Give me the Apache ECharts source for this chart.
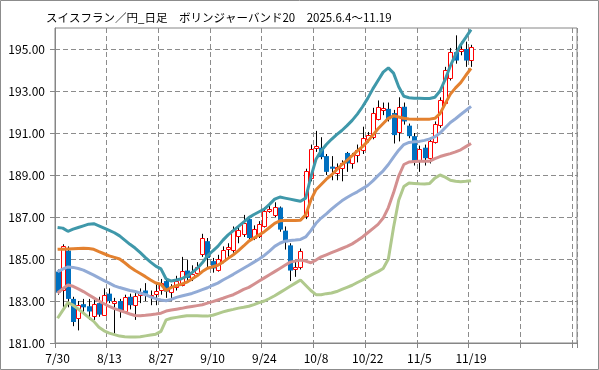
<!DOCTYPE html>
<html>
<head>
<meta charset="utf-8">
<script src="https://cdn.jsdelivr.net/npm/echarts@6/dist/echarts.min.js"></script>
<style>
html,body{margin:0;padding:0;background:#fff;}
#c{width:599px;height:370px;}
</style>
</head>
<body>
<div id="c"></div>
<script>
const titleText = 'スイスフラン／円_日足　ボリンジャーバンド20　2025.6.4～11.19';

// weekday categories 2025-07-30 .. 2025-12-17
const categories = (function(){
  const out = [];
  const d = new Date(2025, 6, 30);
  const end = new Date(2025, 11, 17);
  while (d <= end) {
    const wd = d.getDay();
    if (wd !== 0 && wd !== 6) out.push((d.getMonth()+1) + '/' + d.getDate());
    d.setDate(d.getDate()+1);
  }
  return out;
})();
const lastLabelIndex = 80;

const yTicks = [181, 183, 185, 187, 189, 191, 193, 195];

const opens = [184.40,183.50,185.40,183.10,182.20,182.85,182.75,182.30,182.90,182.35,
183.35,182.90,183.00,182.55,183.20,182.80,183.30,183.50,183.20,183.35,
183.50,183.95,183.40,183.65,183.80,184.45,184.10,184.30,185.25,185.85,
184.90,184.50,184.95,185.45,185.45,186.10,186.20,186.90,186.00,186.10,
186.60,187.30,187.10,187.45,186.35,185.65,184.50,184.65,187.05,188.85,
190.30,190.30,189.90,189.40,189.10,189.30,190.05,189.55,189.95,190.20,
190.70,190.80,191.70,192.10,192.15,191.95,191.05,192.25,191.35,190.85,
189.70,190.30,189.80,190.60,191.35,192.45,193.60,194.85,194.90,195.00,194.50];
const closes = [183.40,185.60,183.10,182.00,182.80,182.70,182.50,182.85,182.35,183.30,
183.00,183.00,182.55,183.20,182.80,183.25,183.45,183.35,183.30,183.50,
183.85,183.45,183.65,183.95,184.45,184.10,184.30,184.60,186.00,185.05,
184.55,185.00,185.45,185.55,186.40,186.40,186.70,186.00,186.45,186.65,
187.30,187.40,187.50,186.40,185.80,184.45,184.60,185.40,189.20,190.25,
190.40,189.85,189.15,189.30,189.40,189.55,189.55,189.95,190.20,190.75,
190.90,191.95,192.25,192.20,191.65,190.90,192.25,191.55,190.85,189.65,
190.25,189.80,190.60,191.45,192.55,194.00,194.85,194.45,195.00,194.45,195.10];
const lows = [183.30,182.70,182.70,181.80,181.60,182.45,182.10,182.10,182.25,182.30,
182.90,181.45,182.20,182.45,182.60,182.10,182.90,183.00,182.80,182.80,
183.30,183.15,183.00,183.50,183.70,183.95,183.95,184.20,185.10,184.60,
184.35,184.40,184.80,185.10,185.30,185.75,186.05,185.90,185.90,186.00,
186.50,187.20,187.00,186.30,185.45,183.95,184.15,184.50,186.90,188.70,
190.10,189.75,189.00,188.75,188.75,188.70,189.15,189.30,189.60,190.00,
190.55,190.70,191.60,191.85,191.55,190.50,190.60,191.40,190.75,189.45,
189.15,189.45,189.55,190.50,191.25,192.35,193.50,194.30,194.70,194.15,194.15];
const highs = [184.50,185.70,185.60,183.20,183.00,183.10,183.10,183.05,183.20,183.60,
183.60,183.15,183.10,183.30,183.35,183.40,183.60,183.85,183.50,183.80,
184.05,184.05,183.80,184.20,185.10,184.95,184.70,184.85,186.20,186.00,
185.05,185.20,185.60,185.75,186.55,186.60,187.10,187.05,186.60,186.80,
187.45,187.55,187.70,187.50,186.55,185.75,184.95,185.50,189.30,190.45,
191.10,190.80,190.00,189.90,189.55,189.70,190.10,190.05,190.45,191.30,
191.05,192.20,192.55,192.45,192.45,192.10,192.70,192.45,191.45,191.00,
190.40,190.45,190.70,191.55,192.70,194.15,195.05,195.65,195.35,195.35,195.20];

const bandPlus2 = [186.50,186.47,186.32,186.42,186.50,186.58,186.66,186.68,186.58,186.47,
186.36,186.25,186.10,185.90,185.70,185.52,185.30,185.07,184.85,184.66,
184.53,184.05,183.95,184.00,184.06,184.18,184.35,184.55,184.82,185.15,
185.38,185.60,185.90,186.15,186.35,186.55,186.76,186.97,187.12,187.25,
187.38,187.60,187.85,187.95,187.90,187.85,187.80,187.75,187.90,188.90,
189.75,190.15,190.45,190.70,190.92,191.12,191.35,191.60,191.90,192.25,
192.65,193.10,193.50,193.90,194.10,193.85,193.20,192.75,192.68,192.66,
192.65,192.64,192.64,192.70,193.00,193.55,194.20,194.73,195.20,195.55,195.92];
const bandPlus1 = [185.46,185.47,185.48,185.49,185.50,185.51,185.50,185.46,185.35,185.25,
185.15,185.08,185.00,184.82,184.62,184.45,184.31,184.16,184.00,183.86,
183.80,183.50,183.65,183.73,183.80,183.90,184.05,184.20,184.40,184.56,
184.63,184.70,184.85,185.03,185.20,185.40,185.62,185.85,186.00,186.15,
186.30,186.50,186.70,186.82,186.83,186.83,186.83,186.85,187.10,187.80,
188.30,188.55,188.80,189.00,189.25,189.50,189.70,189.92,190.15,190.35,
190.60,190.90,191.20,191.45,191.70,191.82,191.76,191.70,191.67,191.66,
191.66,191.66,191.66,191.70,191.92,192.40,192.85,193.15,193.40,193.75,194.08];
const bandMid = [184.40,184.52,184.62,184.60,184.55,184.47,184.35,184.23,184.10,183.97,
183.85,183.72,183.64,183.57,183.50,183.45,183.38,183.30,183.20,183.11,
183.05,183.01,183.08,183.17,183.24,183.30,183.36,183.45,183.54,183.63,
183.75,183.85,184.00,184.13,184.27,184.42,184.56,184.70,184.85,185.00,
185.17,185.38,185.60,185.75,185.85,185.88,185.90,185.93,186.05,186.35,
186.70,186.95,187.15,187.37,187.58,187.77,187.93,188.07,188.20,188.35,
188.50,188.72,188.97,189.20,189.50,189.85,190.18,190.45,190.55,190.58,
190.60,190.65,190.72,190.82,191.00,191.25,191.50,191.68,191.88,192.07,192.27];
const bandMinus1 = [183.38,183.58,183.76,183.70,183.58,183.45,183.30,183.15,183.00,182.87,
182.74,182.64,182.55,182.47,182.38,182.31,182.30,182.32,182.35,182.38,
182.42,182.52,182.57,182.61,182.65,182.70,182.74,182.78,182.82,182.90,
182.97,183.05,183.13,183.22,183.30,183.42,183.55,183.65,183.80,183.95,
184.10,184.25,184.40,184.55,184.70,184.85,184.90,184.95,184.90,184.82,
184.95,185.10,185.20,185.30,185.40,185.50,185.60,185.72,185.88,186.05,
186.25,186.45,186.65,186.95,187.45,188.15,188.95,189.50,189.62,189.64,
189.65,189.65,189.66,189.78,189.88,189.95,190.02,190.10,190.20,190.35,190.50];
const bandMinus2 = [182.18,182.55,182.92,182.80,182.62,182.42,182.22,182.03,181.75,181.58,
181.47,181.40,181.33,181.30,181.28,181.28,181.30,181.34,181.38,181.42,
181.55,182.10,182.18,182.22,182.26,182.30,182.30,182.30,182.28,182.28,
182.32,182.40,182.48,182.55,182.60,182.66,182.70,182.75,182.83,182.92,
183.00,183.12,183.25,183.40,183.55,183.70,183.85,184.00,183.75,183.50,
183.30,183.30,183.35,183.38,183.45,183.55,183.65,183.75,183.88,184.00,
184.15,184.28,184.40,184.55,185.00,186.50,187.80,188.45,188.62,188.60,
188.58,188.57,188.60,188.85,189.00,188.90,188.75,188.70,188.68,188.70,188.73];

const colors = {
  plus2: '#3f98aa', plus1: '#e3812f', mid: '#92abd6', minus1: '#d49090', minus2: '#b0c98d',
  up: '#ff0000', down: '#0070c0', wick: '#000000', grid: '#8c8c8c', axis: '#868686'
};

const candleData = opens.map((o, i) => [i, o, closes[i], lows[i], highs[i]]);

function renderCandle(params, api) {
  const i = api.value(0), o = api.value(1), c = api.value(2), l = api.value(3), h = api.value(4);
  const pO = api.coord([i, o]), pC = api.coord([i, c]), pL = api.coord([i, l]), pH = api.coord([i, h]);
  const cx = Math.round(pO[0]) + 0.5;
  const up = c >= o;
  const top = Math.min(pO[1], pC[1]), bot = Math.max(pO[1], pC[1]);
  const children = [{
    type: 'line',
    shape: {x1: cx, y1: pH[1], x2: cx, y2: pL[1]},
    style: {stroke: colors.wick, lineWidth: 1}
  }];
  if (up) {
    children.push({
      type: 'rect',
      shape: {x: cx - 2, y: Math.round(top) + 0.5, width: 4, height: Math.max(1, Math.round(bot - top))},
      style: {fill: '#ffffff', stroke: colors.up, lineWidth: 1}
    });
  } else {
    children.push({
      type: 'rect',
      shape: {x: cx - 2.5, y: top, width: 5, height: Math.max(1, bot - top)},
      style: {fill: colors.down}
    });
  }
  return {type: 'group', children};
}

function band(name, data, color) {
  return {
    name, type: 'line', data, symbol: 'none', smooth: false,
    lineStyle: {color, width: 3}, z: 3, silent: true
  };
}

const chart = echarts.init(document.getElementById('c'), null, {renderer: 'canvas'});
chart.setOption({
  animation: false,
  backgroundColor: '#ffffff',
  title: {
    text: titleText, left: 41, top: 7,
    textStyle: {fontFamily: 'Noto Sans CJK JP', fontSize: 11.5, fontWeight: 'normal', color: '#000'}
  },
  graphic: [{
    type: 'rect', shape: {x: 0.5, y: 0.5, width: 598, height: 369},
    style: {fill: 'none', stroke: '#8c8c8c', lineWidth: 1}, silent: true, z: 100
  }],
  grid: {left: 55, right: 22, top: 28, bottom: 27, show: true, borderColor: colors.axis, borderWidth: 1, containLabel: false},
  xAxis: {
    type: 'category', data: categories, boundaryGap: true,
    axisLine: {lineStyle: {color: colors.axis}},
    axisTick: {show: true, interval: 9, length: 5, lineStyle: {color: colors.axis}},
    axisLabel: {
      interval: 9, margin: 9, color: '#000', fontFamily: 'Noto Sans CJK JP', fontSize: 12,
      formatter: (v, idx) => idx <= lastLabelIndex ? v : ''
    },
    splitLine: {show: true, interval: 9, lineStyle: {color: colors.grid, type: [5, 3], width: 1}}
  },
  yAxis: {
    type: 'value', min: 181, max: 196, scale: true,
    axisLine: {show: true, lineStyle: {color: colors.axis}},
    axisTick: {show: true, length: 5, customValues: yTicks, lineStyle: {color: colors.axis}},
    axisLabel: {customValues: yTicks, margin: 10, color: '#000', fontFamily: 'Noto Sans CJK JP', fontSize: 12,
      formatter: v => v.toFixed(2)},
    splitLine: {show: true, lineStyle: {color: colors.grid, type: [5, 3], width: 1}}
  },
  series: [
    {name: 'candles', type: 'custom', renderItem: renderCandle, data: candleData,
     encode: {x: 0, y: [1, 2, 3, 4]}, z: 2, silent: true},
    band('+2σ', bandPlus2, colors.plus2),
    band('+1σ', bandPlus1, colors.plus1),
    band('MA20', bandMid, colors.mid),
    band('-1σ', bandMinus1, colors.minus1),
    band('-2σ', bandMinus2, colors.minus2)
  ]
});
</script>
</body>
</html>
